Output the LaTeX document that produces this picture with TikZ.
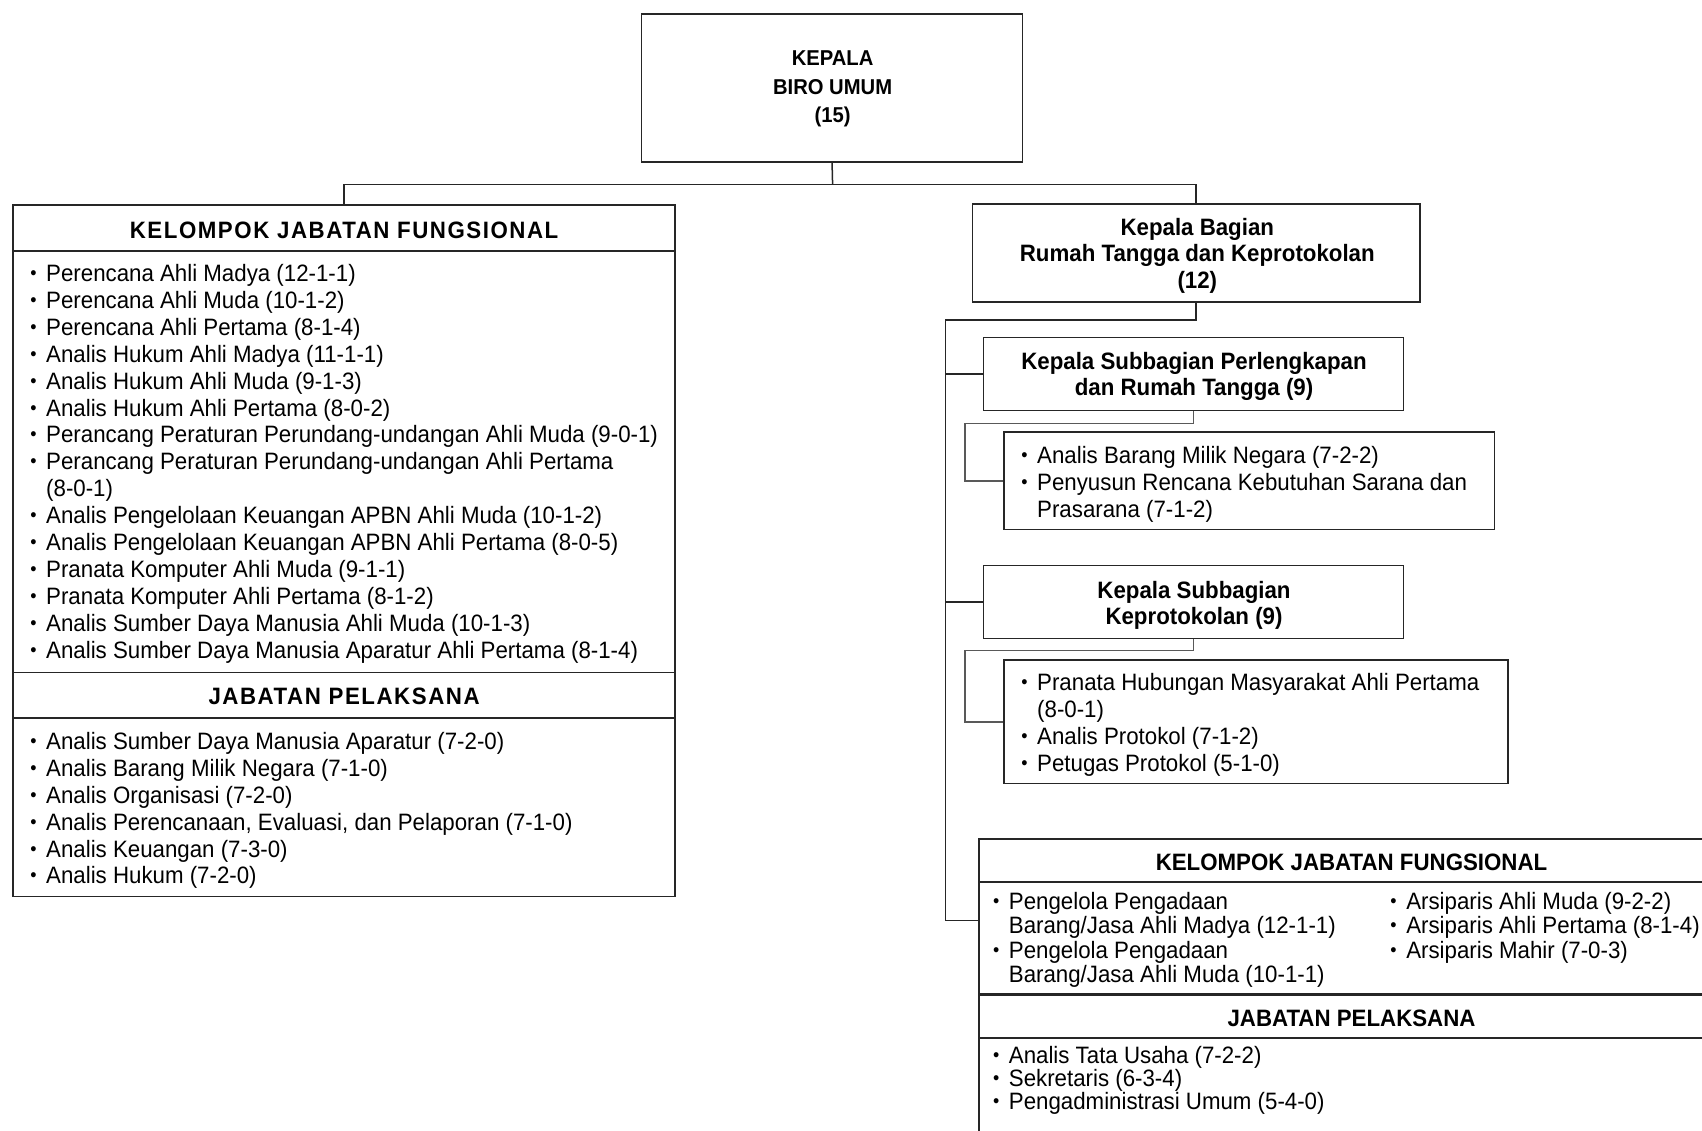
\documentclass[tikz,border=0pt]{standalone}
\usepackage{fontspec}
\setmainfont{Liberation Sans}[FakeStretch=0.94]
\newcommand{\bl}{\makebox[0pt]{\raisebox{2pt}{\fontsize{19}{19}\selectfont •}}\hspace*{12.7pt}}
\newcommand{\ind}{\hspace*{12.7pt}}
\tikzset{
  box/.style={draw=black!85, line width=1.5pt, rectangle, inner sep=0pt},
  conn/.style={draw=black!85, line width=1.5pt},
  subconn/.style={draw=black!65, line width=1.3pt},
  divider/.style={draw=black!85, line width=1.5pt},
  itm/.style={anchor=base west, inner sep=0pt, font=\fontsize{23.7}{26.9}\selectfont},
  ttl/.style={anchor=base, inner sep=0pt, font=\fontsize{23.7}{26.9}\selectfont\bfseries},
  toptxt/.style={anchor=base, inner sep=0pt, font=\fontsize{21.5}{28}\selectfont\bfseries},
  hdrsp/.style={anchor=base, inner sep=0pt, font=\fontsize{23.7}{26.9}\selectfont\bfseries\addfontfeature{LetterSpace=6.5}},
}
\begin{document}
\begin{tikzpicture}[x=1pt,y=-1pt]
\useasboundingbox (0,0) rectangle (1702,1130);
\fill[white] (0,0) rectangle (1702,1130);
\clip (0,0) rectangle (1702,1130);

% ---------- boxes ----------
\node[box, minimum width=381.1pt, minimum height=148pt] (top) at (832.05,88) {};
\node[box, minimum width=662.2pt, minimum height=691.4pt] (kjf) at (344.1,550.9) {};
\node[box, minimum width=447.2pt, minimum height=97.8pt] (kb) at (1196.2,252.9) {};
\node[box, minimum width=420pt, minimum height=72.7pt] (sub1) at (1193.5,373.95) {};
\node[box, minimum width=490.6pt, minimum height=97.7pt] (list1) at (1249.4,480.85) {};
\node[box, minimum width=420pt, minimum height=72.7pt] (sub2) at (1193.5,601.95) {};
\node[box, minimum width=503.7pt, minimum height=123.7pt] (list2) at (1255.95,721.85) {};
\node[box, minimum width=800.8pt, minimum height=360.9pt] (kjfb) at (1379.6,1019.55) {};

% dividers
\draw[divider] ([yshift=-46.6pt]kjf.north west) -- ([yshift=-46.6pt]kjf.north east);
\draw[divider] ([yshift=-467.8pt]kjf.north west) -- ([yshift=-467.8pt]kjf.north east);
\draw[divider] ([yshift=-513.4pt]kjf.north west) -- ([yshift=-513.4pt]kjf.north east);
\draw[divider] ([yshift=-43.4pt]kjfb.north west) -- ([yshift=-43.4pt]kjfb.north east);
\draw[divider, line width=3pt] ([yshift=-156.3pt]kjfb.north west) -- ([yshift=-156.3pt]kjfb.north east);
\draw[divider] ([yshift=-199.7pt]kjfb.north west) -- ([yshift=-199.7pt]kjfb.north east);

% ---------- connectors ----------
\coordinate (bus) at (832.6,184.5);
\draw[conn] (top.south) -- (bus);
\draw[conn] (bus) -| (kjf.north);
\draw[conn] (bus) -| (kb.north);

\coordinate (kbbus) at (945.5,320.2);
\coordinate (kjfbin) at (979.2,920.5);
\draw[conn] (kb.south) |- (kbbus) |- (kjfbin);
\draw[conn] (kbbus) |- (sub1.west);
\draw[conn] (kbbus) |- (sub2.west);

\coordinate (s1c) at (965,423.3);
\draw[subconn] (sub1.south) |- (s1c) |- (list1.west);
\coordinate (s2c) at (965,650.2);
\draw[subconn] (sub2.south) |- (s2c) |- (list2.west);

% ---------- texts ----------
\node[toptxt] (t1) at (832.6,65) {KEPALA};
\node[toptxt] (t2) at (832.6,94.3) {BIRO UMUM};
\node[toptxt] (t3) at (832.6,122.5) {(15)};

\node[hdrsp] (h1) at (344.1,238.5) {KELOMPOK JABATAN FUNGSIONAL};
\node[hdrsp] (h2) at (344.1,704.3) {JABATAN PELAKSANA};

\foreach \t [count=\i from 0] in {
  {\bl Perencana Ahli Madya (12-1-1)},
  {\bl Perencana Ahli Muda (10-1-2)},
  {\bl Perencana Ahli Pertama (8-1-4)},
  {\bl Analis Hukum Ahli Madya (11-1-1)},
  {\bl Analis Hukum Ahli Muda (9-1-3)},
  {\bl Analis Hukum Ahli Pertama (8-0-2)},
  {\bl Perancang Peraturan Perundang-undangan Ahli Muda (9-0-1)},
  {\bl Perancang Peraturan Perundang-undangan Ahli Pertama},
  {\ind (8-0-1)},
  {\bl Analis Pengelolaan Keuangan APBN Ahli Muda (10-1-2)},
  {\bl Analis Pengelolaan Keuangan APBN Ahli Pertama (8-0-5)},
  {\bl Pranata Komputer Ahli Muda (9-1-1)},
  {\bl Pranata Komputer Ahli Pertama (8-1-2)},
  {\bl Analis Sumber Daya Manusia Ahli Muda (10-1-3)},
  {\bl Analis Sumber Daya Manusia Aparatur Ahli Pertama (8-1-4)}}
  \node[itm] (ka\i) at (33.3,{281.5+\i*26.9}) {\t};

\foreach \t [count=\i from 0] in {
  {\bl Analis Sumber Daya Manusia Aparatur (7-2-0)},
  {\bl Analis Barang Milik Negara (7-1-0)},
  {\bl Analis Organisasi (7-2-0)},
  {\bl Analis Perencanaan, Evaluasi, dan Pelaporan (7-1-0)},
  {\bl Analis Keuangan (7-3-0)},
  {\bl Analis Hukum (7-2-0)}}
  \node[itm] (kp\i) at (33.3,{749.4+\i*26.9}) {\t};

\node[ttl] (b1) at (1197.3,235) {Kepala Bagian};
\node[ttl] (b2) at (1197.3,261) {Rumah Tangga dan Keprotokolan};
\node[ttl] (b3) at (1197.3,288) {(12)};

\node[ttl] (s1a) at (1194,369.5) {Kepala Subbagian Perlengkapan};
\node[ttl] (s1b) at (1194,395.5) {dan Rumah Tangga (9)};

\foreach \t [count=\i from 0] in {
  {\bl Analis Barang Milik Negara (7-2-2)},
  {\bl Penyusun Rencana Kebutuhan Sarana dan},
  {\ind Prasarana (7-1-2)}}
  \node[itm] (la\i) at (1024.3,{463.9+\i*26.6}) {\t};

\node[ttl] (s2a) at (1194,598.5) {Kepala Subbagian};
\node[ttl] (s2b) at (1194,624.6) {Keprotokolan (9)};

\foreach \t [count=\i from 0] in {
  {\bl Pranata Hubungan Masyarakat Ahli Pertama},
  {\ind (8-0-1)},
  {\bl Analis Protokol (7-1-2)},
  {\bl Petugas Protokol (5-1-0)}}
  \node[itm] (lb\i) at (1024.3,{690.8+\i*27}) {\t};

\node[ttl] (h3) at (1351.5,870.4) {KELOMPOK JABATAN FUNGSIONAL};
\node[ttl] (h4) at (1351.5,1026.7) {JABATAN PELAKSANA};

\foreach \t [count=\i from 0] in {
  {\bl Pengelola Pengadaan},
  {\ind Barang/Jasa Ahli Madya (12-1-1)},
  {\bl Pengelola Pengadaan},
  {\ind Barang/Jasa Ahli Muda (10-1-1)}}
  \node[itm] (ba\i) at (996,{909+\i*24.6}) {\t};

\foreach \t [count=\i from 0] in {
  {\bl Arsiparis Ahli Muda (9-2-2)},
  {\bl Arsiparis Ahli Pertama (8-1-4)},
  {\bl Arsiparis Mahir (7-0-3)}}
  \node[itm] (bb\i) at (1393.4,{909+\i*24.6}) {\t};

\foreach \t [count=\i from 0] in {
  {\bl Analis Tata Usaha (7-2-2)},
  {\bl Sekretaris (6-3-4)},
  {\bl Pengadministrasi Umum (5-4-0)}}
  \node[itm] (bp\i) at (996,{1063.1+\i*23.4}) {\t};
\end{tikzpicture}
\end{document}
